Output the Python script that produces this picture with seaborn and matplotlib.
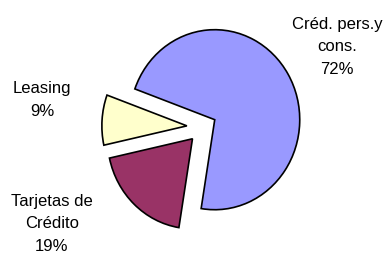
import numpy as np
import pandas as pd
import matplotlib
matplotlib.use("Agg")
import matplotlib.pyplot as plt
import seaborn as sns

# data
categorias = ["Créd. pers.y\ncons.", "Tarjetas de\nCrédito", "Leasing"]
porcentajes = [72, 19, 9]
colores = ["#9999FF", "#993366", "#FFFFCC"]

df = pd.DataFrame({"categoria": categorias, "pct": porcentajes})

sns.set_style("white")
plt.rcParams["font.family"] = ["Liberation Sans", "DejaVu Sans"]

fig = plt.figure(figsize=(3.85, 2.55), dpi=100)
ax = fig.add_axes([0, 0, 1, 1])

wedges, textos = ax.pie(
    df.pct,
    labels=[f"{c}\n{p}%" for c, p in zip(df.categoria, df.pct)],
    colors=sns.color_palette(colores),
    startangle=160,
    counterclock=False,
    explode=[0.16, 0.18, 0.19],
    wedgeprops=dict(edgecolor="black", linewidth=1.2),
    textprops=dict(fontsize=12, ha="center", va="center", color="black"),
)

# posiciones de las etiquetas (como en el grafico de Excel)
pos_etiquetas = [(1.58, 0.90), (-1.78, -1.065), (-1.89, 0.31)]
for t, (x, y) in zip(textos, pos_etiquetas):
    t.set_position((x, y))
    t.set_horizontalalignment("center")
    t.set_verticalalignment("center")
    t.set_linespacing(1.6)

# el pastel original esta un poco estirado en vertical
ax.set_aspect("auto")
ax.set_xlim(-2.388, 2.141)
ax.set_ylim(-1.411, 1.422)
ax.axis("off")

fig.savefig("out.png", dpi=100)
